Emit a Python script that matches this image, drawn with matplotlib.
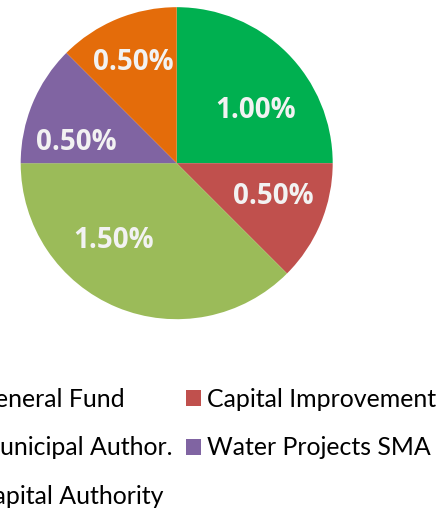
import matplotlib
matplotlib.use("Agg")
import matplotlib.pyplot as plt
import numpy as np

# data
funds = ["General Fund", "Capital Improvement", "Municipal Author.",
         "Water Projects SMA", "Capital Authority"]
rates = [1.00, 0.50, 1.50, 0.50, 0.50]
colors = ["#00B050", "#C0504D", "#9BBB59", "#8064A2", "#E46C0A"]

# where the value labels sit (fraction of radius, angle in degrees)
lab_r = [0.62, 0.65, 0.62, 0.66, 0.72]
lab_ang = [35.4, -17.1, 229.6, 166.3, 112.5]

plt.rcParams["font.family"] = ["Lato", "DejaVu Sans"]

fig = plt.figure(figsize=(4.42, 5.09), dpi=100)
ax = fig.add_axes([0.0468, 0.3729, 0.7059, 0.6130])

wedges, _ = ax.pie(rates, colors=colors, startangle=90, counterclock=False)
for v, r, a in zip(rates, lab_r, lab_ang):
    t = np.deg2rad(a)
    ax.text(r * np.cos(t), r * np.sin(t), f"{v:.2f}%", ha="center",
            va="center_baseline", color="#F2F2F2", fontsize=20,
            fontweight="bold", family=["Open Sans", "DejaVu Sans"])
ax.set_xlim(-1, 1)
ax.set_ylim(-1, 1)
ax.set_aspect("equal")
ax.axis("off")

kw = dict(loc="upper left", frameon=False, fontsize=17.9, borderpad=0,
          borderaxespad=0, handlelength=0.6, handleheight=0.6,
          handletextpad=0.24, labelspacing=1.02)
left = [0, 2, 4]
right = [1, 3]
fig.legend([wedges[i] for i in left], [funds[i] for i in left],
           bbox_to_anchor=(-0.0995, 0.2375), **kw)
fig.legend([wedges[i] for i in right], [funds[i] for i in right],
           bbox_to_anchor=(0.4208, 0.2375), **kw)

fig.savefig("out.png", dpi=100)
